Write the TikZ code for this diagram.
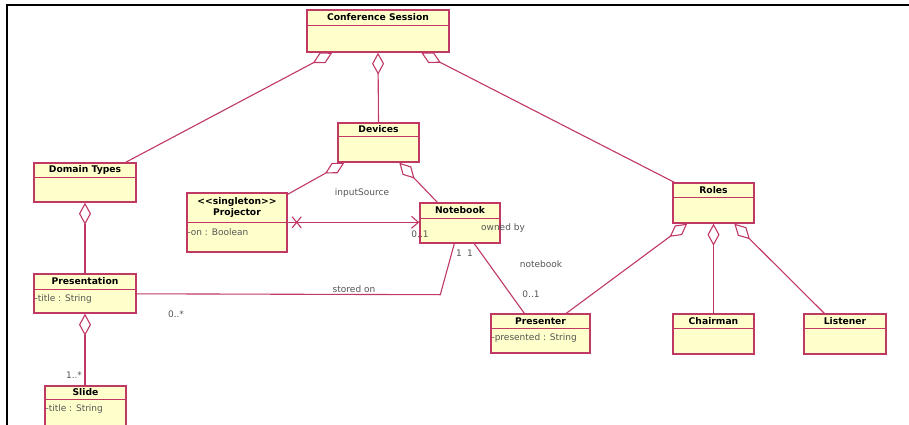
\documentclass[tikz,border=0pt]{standalone}
\usepackage{fontspec}
\setmainfont{DejaVu Sans}
\usetikzlibrary{arrows.meta,calc,shapes.misc}
\definecolor{umlline}{RGB}{192,56,100}
\definecolor{umlfill}{RGB}{255,255,204}
\definecolor{lblgray}{RGB}{85,85,85}
\tikzset{
  classbox/.style={draw=umlline, fill=umlfill, line width=1.4pt, rectangle, inner sep=0pt},
  classsep/.style={draw=umlline, line width=1pt},
  classtitle/.style={font=\fontsize{9.2}{11.5}\selectfont\bfseries, text=black, align=center, inner sep=0pt},
  classattr/.style={font=\fontsize{9}{10}\selectfont, text=lblgray, anchor=west, inner sep=0pt},
  lbl/.style={font=\fontsize{9}{10}\selectfont, text=lblgray, inner sep=0pt},
  assoc/.style={draw=umlline, line width=1.1pt},
  aggr/.style={assoc, {Diamond[open, length=22pt, width=12pt, line width=1.1pt]}-},
  navarrow/.style={assoc, -{Straight Barb[length=7pt, width=12pt, line width=1.1pt]}},
  crossmark/.style={cross out, draw=umlline, line width=1.1pt, minimum width=8pt, minimum height=10pt, inner sep=0pt},
  frameline/.style={draw=black, line width=2pt}
}
% name, cx, cy, w, h, header height, title
\newcommand\umlclassbox[7]{%
  \node[classbox, minimum width=#4pt, minimum height=#5pt] (#1) at (#2,#3) {};
  \draw[classsep] ($(#1.north west)+(0,#6)$) -- ($(#1.north east)+(0,#6)$);
  \node[classtitle] (#1-t) at ($(#1.north)+(0,#6/2)$) {#7};
}
\begin{document}
\begin{tikzpicture}[x=1pt,y=-1pt]
\clip (0,0) rectangle (909,425);
\fill[white] (0,0) rectangle (909,425);
\draw[frameline] (909,5) -- (7,5) -- (7,426);

\umlclassbox{cs}{378}{31}{142}{42}{16}{Conference Session}
\umlclassbox{dt}{85}{182.5}{102}{39}{15}{Domain Types}
\umlclassbox{proj}{237}{222.5}{100}{59}{30}{<\kern0pt<singleton>\kern0pt>\\Projector}
\umlclassbox{dev}{378.5}{142.5}{81}{39}{14}{Devices}
\umlclassbox{nb}{460}{223}{80}{40}{16}{Notebook}
\umlclassbox{pres}{85}{293.5}{102}{39}{16}{Presentation}
\umlclassbox{slide}{85.5}{407}{81}{42}{14}{Slide}
\umlclassbox{pr}{540.5}{333.5}{99}{39}{15}{Presenter}
\umlclassbox{roles}{713.5}{203}{81}{40}{15}{Roles}
\umlclassbox{chair}{713.5}{334}{81}{40}{15}{Chairman}
\umlclassbox{lis}{845}{334}{82}{40}{15}{Listener}

\node[classattr] (proj-a) at ($(proj.north west)+(1,40)$) {-on : Boolean};
\node[classattr] (pres-a) at ($(pres.north west)+(1,26)$) {-title : String};
\node[classattr] (slide-a) at ($(slide.north west)+(1,24)$) {-title : String};
\node[classattr] (pr-a) at ($(pr.north west)+(1,25)$) {-presented : String};

% aggregations
\draw[aggr] ($(cs.south west)+(26,0)$) -- ($(dt.north east)+(-11,0)$);
\draw[aggr] (cs.south) -- (dev.north);
\draw[aggr] ($(cs.south west)+(115,0)$) -- ($(roles.north west)+(2,0)$);
\draw[aggr] ($(dev.south west)+(7,0)$) -- ($(proj.north east)+(0,2)$);
\draw[aggr] ($(dev.south west)+(62,0)$) -- ($(nb.north west)+(18,0)$);
\draw[aggr] (dt.south) -- (pres.north);
\draw[aggr] (pres.south) -- (pres.south |- slide.north);
\draw[aggr] ($(roles.south west)+(15,0)$) -- ($(pr.north west)+(76,0)$);
\draw[aggr] (roles.south) -- (chair.north);
\draw[aggr] ($(roles.south west)+(62,0)$) -- ($(lis.north west)+(21,0)$);

% inputSource
\draw[navarrow] ($(proj.north east)+(0,30)$) -- ($(nb.north west)+(0,20)$);
\node[crossmark] (xm) at ($(proj.north east)+(9,30)$) {};
\node[lbl] (l-input) at (362,193) {inputSource};
\node[lbl] (l-nb01) at (420,234) {0..1};

% stored on
\draw[assoc] ($(pres.north east)+(0,20.5)$) -- ($(nb.south west)+(21,51)$) -- ($(nb.south west)+(35,0)$);
\node[lbl] (l-stored) at (354,289) {stored on};
\node[lbl] (l-pres0) at (176,314) {0..*};
\node[lbl] (l-one1) at (459,253) {1};

% owned by
\draw[assoc] ($(nb.south west)+(55,0)$) -- ($(pr.north west)+(34,0)$);
\node[lbl] (l-one2) at (470,253) {1};
\node[lbl] (l-owned) at (503,228) {owned by};
\node[lbl] (l-notebook) at (541,264) {notebook};
\node[lbl] (l-pr01) at (531,294) {0..1};

\node[lbl] (l-slide) at (74,375) {1..*};
\end{tikzpicture}
\end{document}
